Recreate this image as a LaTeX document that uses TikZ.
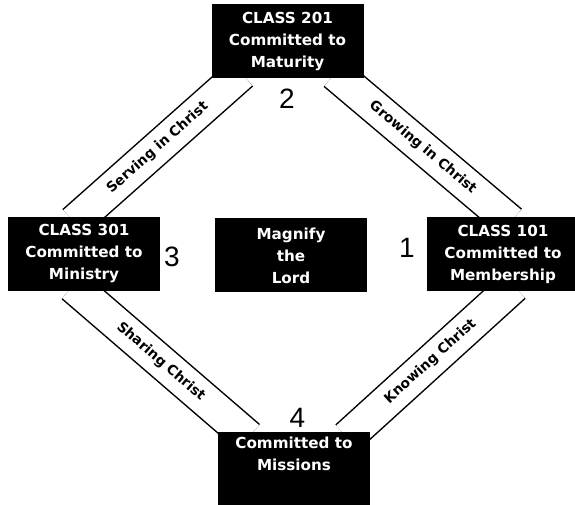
\documentclass[tikz,border=0pt]{standalone}
\usepackage{fontspec}
\setmainfont{DejaVu Sans}
\newfontfamily\numfont{Liberation Sans}
\usetikzlibrary{calc,backgrounds}

\begin{document}
\begin{tikzpicture}[
            x=1pt, y=1pt,
            classbox/.style = {fill=black, text=white, align=center, minimum width=152pt, minimum height=74pt, inner sep=2pt, font=\bfseries\fontsize{15.2}{22}\selectfont},
            band/.style = {draw=black, line width=1.5pt, double=white, double distance=32pt, shorten <=-8pt, shorten >=-8pt},
            bandtext/.style = {sloped, inner sep=0pt, font=\bfseries\fontsize{13.8}{15}\selectfont},
            num/.style = {inner sep=0pt, font=\numfont\fontsize{28}{28}\selectfont}
        ]
        \useasboundingbox (0,0) rectangle (575,505);
        \clip (0,0) rectangle (575,505);

        \node[classbox] (maturity) at (287.5,463.5) {CLASS 201\\Committed to\\Maturity};
        \node[classbox] (ministry) at (84,251) {CLASS 301\\Committed to\\Ministry};
        \node[classbox] (magnify) at (291,249.5) {Magnify\\the\\Lord};
        \node[classbox] (membership) at (503,251) {CLASS 101\\Committed to\\Membership};
        \node[classbox, anchor=north, inner ysep=5pt, text depth=60pt] (missions) at (294,73) {Committed to\\Missions};

        \node[num] (two) at (287,406) {2};
        \node[num] (three) at (172,248) {3};
        \node[num] (one) at (407,257) {1};
        \node[num] (four) at (297.5,87) {4};

        \begin{scope}[on background layer]
            \draw[band] ($(maturity.south)+(-52,0)$) -- node[bandtext] {Serving in Christ} ($(ministry.north)+(-4,0)$);
            \draw[band] ($(maturity.south)+(53.5,0)$) -- node[bandtext] {Growing in Christ} ($(membership.north)+(1.5,0)$);
            \draw[band] ($(ministry.south)+(-5,0)$) -- node[bandtext] {Sharing Christ} ($(missions.north)+(-51.5,0)$);
            \draw[band] ($(membership.south)+(5,0)$) -- node[bandtext] {Knowing Christ} ($(missions.north)+(59,0)$);
        \end{scope}
    \end{tikzpicture}
\end{document}
